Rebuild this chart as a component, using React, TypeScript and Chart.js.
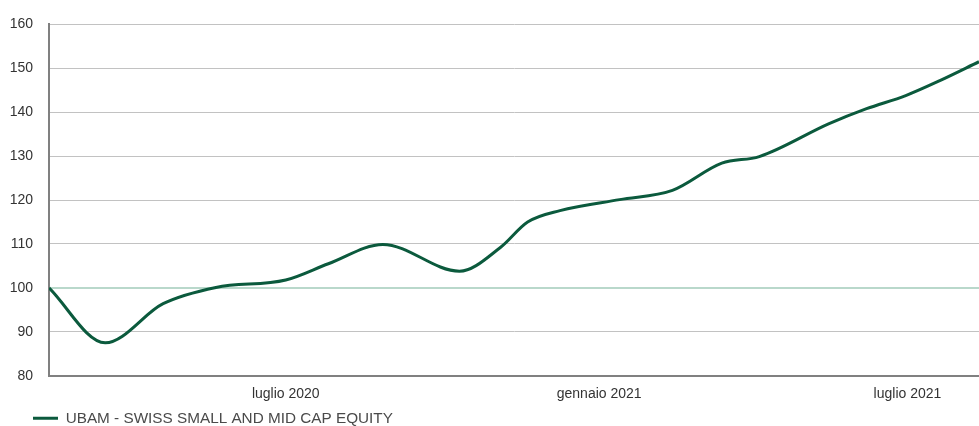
import React, { useEffect, useRef } from "react";
import { Chart, registerables } from "chart.js";

Chart.register(...registerables);

// days since 2020-02-13
const days = [0, 33, 67, 98, 139, 164, 196, 241, 265, 281, 300, 335, 366, 395, 417, 458, 480, 503, 523, 546];
const values = [100, 87.5, 96.4, 100.1, 101.8, 105.5, 109.9, 103.8, 109.2, 115, 117.6, 120.1, 122.2, 128.4, 129.9, 137.4, 140.8, 143.8, 147.2, 151.5];
const tickDays = [139, 323, 504];
const tickLabels = ["luglio 2020", "gennaio 2021", "luglio 2021"];
const seriesName = "UBAM - SWISS SMALL AND MID CAP EQUITY";

const legendShift = {
  id: "legendShift",
  afterLayout(chart: any) {
    if (chart.legend) {
      chart.legend.left += 32;
      chart.legend.right += 32;
    }
  },
};

export default function App() {
  const ref = useRef<HTMLCanvasElement | null>(null);
  useEffect(() => {
    document.body.style.margin = "0";
    const font = "'Liberation Sans', Arial, Helvetica, sans-serif";
    const chart = new Chart(ref.current!, {
      type: "line",
      data: {
        datasets: [
          {
            label: seriesName,
            data: days.map((d, i) => ({ x: d, y: values[i] })),
            borderColor: "#0b5a3d",
            backgroundColor: "#0b5a3d",
            borderWidth: 3,
            pointRadius: 0,
            cubicInterpolationMode: "monotone",
            fill: false,
          },
        ],
      },
      plugins: [legendShift],
      options: {
        animation: false,
        responsive: false,
        layout: { padding: { left: 0, top: 24, right: 0, bottom: -10 } },
        plugins: {
          tooltip: { enabled: false },
          legend: {
            position: "bottom",
            align: "start",
            labels: {
              padding: 1,
              boxWidth: 25,
              boxHeight: 3,
              color: "#4a4a4a",
              font: { family: font, size: 15.3 },
              generateLabels: (c: any) =>
                (Chart.defaults.plugins.legend.labels as any)
                  .generateLabels(c)
                  .map((l: any) => ({ ...l, lineWidth: 0 })),
            },
          },
        },
        scales: {
          x: {
            type: "linear",
            min: 0,
            max: 546,
            afterBuildTicks: (s: any) => {
              s.ticks = tickDays.map((v) => ({ value: v }));
            },
            afterFit: (s: any) => {
              s.height = 34;
            },
            grid: { display: false, drawTicks: false },
            border: { display: true, color: "#808080", width: 2 },
            ticks: {
              autoSkip: false,
              maxRotation: 0,
              padding: 10,
              color: "#333",
              font: { family: font, size: 14 },
              callback: (v: any) => {
                const i = tickDays.indexOf(Number(v));
                return i >= 0 ? tickLabels[i] : "";
              },
            },
          },
          y: {
            min: 80,
            max: 160,
            afterFit: (s: any) => {
              s.width = 49;
            },
            grid: {
              drawTicks: false,
              color: (c: any) => (c.tick && c.tick.value === 100 ? "#b9d8cb" : "#c2c2c2"),
              lineWidth: (c: any) => (c.tick && c.tick.value === 100 ? 2 : 1),
            },
            border: { display: true, color: "#808080", width: 2 },
            ticks: {
              stepSize: 10,
              padding: 16,
              color: "#333",
              font: { family: font, size: 14 },
            },
          },
        },
      },
    });
    return () => chart.destroy();
  }, []);
  return (
    <div style={{ width: 979, height: 426 }}>
      <canvas ref={ref} width={979} height={426} />
    </div>
  );
}
